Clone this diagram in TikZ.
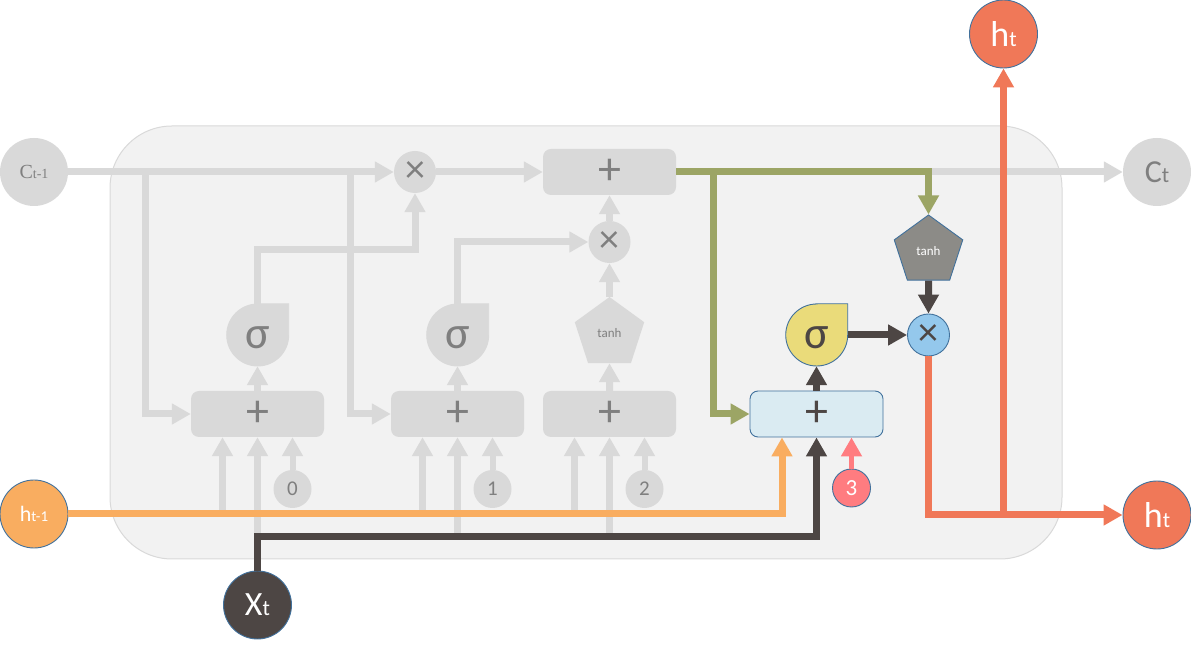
\documentclass[tikz,border=0pt]{standalone}
\usepackage{fontspec}
\setmainfont{Carlito}
\newfontfamily\serifC{Liberation Serif}
\usetikzlibrary{arrows.meta,shapes.geometric,calc}
\definecolor{lg}{HTML}{D9D9D9}
\definecolor{tg}{HTML}{7F7F7F}
\definecolor{bgc}{HTML}{F2F2F2}
\definecolor{orangeC}{HTML}{F9AD60}
\definecolor{redC}{HTML}{F07858}
\definecolor{greenC}{HTML}{9CA565}
\definecolor{darkC}{HTML}{4D4644}
\definecolor{blueB}{HTML}{41719C}
\definecolor{boxblue}{HTML}{DAEBF2}
\definecolor{xblue}{HTML}{94C8EC}
\definecolor{yellowC}{HTML}{EADB7A}
\definecolor{pinkC}{HTML}{FF7C80}
\definecolor{pentC}{HTML}{8C8B87}
\newcommand\fs[1]{\fontsize{#1}{#1}\selectfont}
\newcommand\sigblob[6]{%
  \node[circle,minimum size=62pt,inner sep=0pt] (#1) at (#2,#3) {};
  \filldraw[fill=#4,draw=#5,line width=0.9pt] (#1.north) -- (#1.north -| #1.east) -- (#1.east)
     arc[start angle=0,end angle=-270,radius=31pt] -- cycle;
  \node[text=#6,font=\fs{46},yshift=-3pt] at (#1) {σ};}
\begin{document}
\begin{tikzpicture}[x=1pt,y=1pt,
  tip/.style={-{Triangle[width=20pt,length=19pt]}},
  gline/.style={line width=7pt,draw=lg,tip},
  gsmall/.style={line width=6pt,draw=lg,tip},
  grline/.style={line width=7pt,draw=greenC,tip},
  oline/.style={line width=7pt,draw=orangeC,tip},
  dline/.style={line width=7pt,draw=darkC,tip},
  rline/.style={line width=7pt,draw=redC,tip},
  pline/.style={line width=5pt,draw=pinkC,tip},
  bigc/.style={circle,inner sep=0pt,minimum size=68pt},
  gcirc/.style={bigc,fill=lg,text=tg},
  colc/.style={bigc,draw=blueB,line width=0.9pt,text=white},
  mult/.style={circle,inner sep=0pt,minimum size=42pt,font=\fs{40}},
  num/.style={circle,inner sep=0pt,minimum size=38pt,font=\fs{21}},
  plusbox/.style={rectangle,rounded corners=8pt,minimum width=133pt,minimum height=46pt,inner sep=0pt,font=\fs{46}},
  pent/.style={regular polygon,regular polygon sides=5,inner sep=0pt,font=\fs{13}}
]
\useasboundingbox (0,0) rectangle (1191,650);
% background block
\filldraw[fill=bgc,draw=lg,line width=1pt,rounded corners=62pt] (110,91) rectangle (1062,524);

% ---- nodes ----
\node[gcirc] (ct1) at (34,478) {{\serifC\fs{20}C\fs{14}t-1}};
\node[gcirc] (ct) at (1157,478) {\fs{32}C\fs{22}t};
\node[colc,fill=orangeC] (hm1) at (34,136) {\fs{22}h\fs{15}t-1};
\node[colc,fill=darkC] (xt) at (257.5,45) {\fs{34}X\fs{22}t};
\node[colc,fill=redC] (ht1) at (1003.5,616) {\fs{36}h\fs{22}t};
\node[colc,fill=redC] (ht2) at (1157,135) {\fs{36}h\fs{22}t};

\node[mult,fill=lg,text=tg] (x1) at (415,478) {×};
\node[mult,fill=lg,text=tg] (x2) at (609.5,408) {×};
\node[mult,fill=xblue,draw=blueB,line width=0.9pt,text=darkC] (bx) at (928.5,315) {×};

\node[plusbox,fill=lg,text=tg] (tb) at (609.5,478) {+};
\node[plusbox,fill=lg,text=tg] (b1) at (257.5,236) {+};
\node[plusbox,fill=lg,text=tg] (b2) at (457.5,236) {+};
\node[plusbox,fill=lg,text=tg] (b3) at (609.5,236) {+};
\node[plusbox,fill=boxblue,draw=blueB,line width=0.9pt,text=darkC] (b4) at (816.5,236) {+};

\sigblob{s1}{257.5}{315}{lg}{lg}{tg}
\sigblob{s2}{457.5}{315}{lg}{lg}{tg}
\sigblob{s4}{816.5}{315}{yellowC}{blueB}{darkC}

\node[pent,minimum size=73pt,fill=lg,text=tg] (p1) at (609.5,316.5) {tanh};
\node[pent,minimum size=72pt,fill=pentC,draw=blueB,line width=0.9pt,text=white] (p2) at (928.5,399) {tanh};

\node[num,fill=lg,text=tg] (c0) at (292.5,161) {0};
\node[num,fill=lg,text=tg] (c1) at (492.5,161) {1};
\node[num,fill=lg,text=tg] (c2) at (644.5,161) {2};
\node[num,fill=pinkC,draw=blueB,line width=0.9pt,text=white,font=\fs{23}] (c3) at (851.5,162) {3};

% ---- junction coordinates ----
\coordinate (j1) at (145,478);
\coordinate (j2) at (350,478);
\coordinate (k1) at (257.5,400);
\coordinate (k2) at (457.5,408);
\coordinate (g1) at (713,478);
\coordinate (g2) at (928.5,478);
\coordinate (r1) at (1003.5,135);
\coordinate (d0) at (257.5,113);
\coordinate (d2) at (457.5,113);
\coordinate (d3) at (609.5,113);
\coordinate (o1) at (222.5,136);
\coordinate (o2) at (422.5,136);
\coordinate (o3) at (574.5,136);

% ---- grey connectors ----
\draw[gline] (ct1) -- (x1);
\draw[gline] (j1) |- (b1);
\draw[gline] (j2) |- (b2);
\draw[gline] (x1) -- (tb);
\draw[gline] (b1) -- (s1);
\draw[gline] (b2) -- (s2);
\draw[gline] (s1.north) -- (k1) -| (x1);
\draw[gline] (s2.north) -- (k2) -- (x2);
\draw[gline] (x2) -- (tb);
\draw[gline] (b3) -- (p1);
\draw[gline] (p1.corner 1) -- (x2);
\draw[gline] (o1) -- (o1 |- b1.south);
\draw[gline] (d0) -- (b1);
\draw[gsmall] (c0) -- (c0 |- b1.south);
\draw[gline] (o2) -- (o2 |- b2.south);
\draw[gline] (d2) -- (b2);
\draw[gsmall] (c1) -- (c1 |- b2.south);
\draw[gline] (o3) -- (o3 |- b3.south);
\draw[gline] (d3) -- (b3);
\draw[gsmall] (c2) -- (c2 |- b3.south);
\draw[gline] (g2) -- (ct);

% ---- coloured connectors ----
\draw[grline] (tb.east) -- (g2) -- (p2.corner 1);
\draw[grline] (g1) |- (b4);
\draw[oline] (hm1) -| ([xshift=-34.5pt]b4.south);
\draw[dline] (xt) -- (d0) -| (b4);
\draw[dline] (b4) -- (s4);
\draw[dline] (s4) -- (bx);
\draw[dline] (p2) -- (bx);
\draw[pline] (c3) -- (c3 |- b4.south);
\draw[rline] (bx) |- (ht2);
\draw[rline] (r1) -- (ht1);
\end{tikzpicture}
\end{document}
